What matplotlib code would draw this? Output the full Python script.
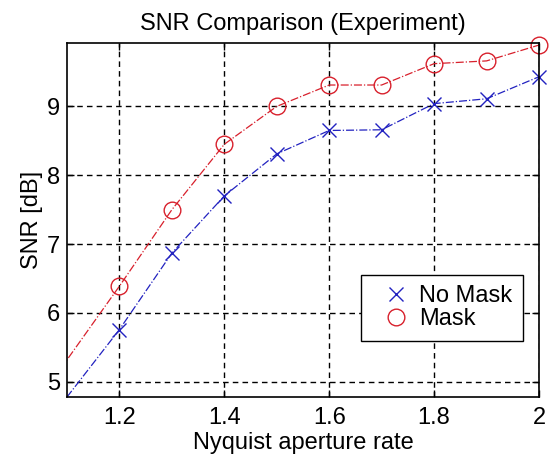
import matplotlib
matplotlib.use('Agg')
import matplotlib.pyplot as plt

# Nyquist aperture rate (1.0 point lies left of the shown range)
rate = [1.0, 1.2, 1.3, 1.4, 1.5, 1.6, 1.7, 1.8, 1.9, 2.0]

# SNR [dB]
snr_no_mask = [3.80, 5.76, 6.87, 7.70, 8.31, 8.65, 8.66, 9.04, 9.11, 9.43]
snr_mask = [4.25, 6.39, 7.50, 8.45, 9.00, 9.31, 9.31, 9.62, 9.66, 9.89]

xticks = [1.2, 1.4, 1.6, 1.8, 2.0]
xtick_labels = ['1.2', '1.4', '1.6', '1.8', '2']
yticks = [5, 6, 7, 8, 9]

plt.rcParams['font.family'] = ['Liberation Sans', 'DejaVu Sans']

blue = '#2222c0'
red = '#d8202c'
fs = 17

fig = plt.figure(figsize=(5.57, 4.59), dpi=100)
ax = fig.add_axes([67 / 557, 62 / 459, 472 / 557, 354 / 459])

# lines first, markers on top (legend shows markers only)
ax.plot(rate, snr_no_mask, color=blue, linestyle='-.', linewidth=0.9)
ax.plot(rate, snr_mask, color=red, linestyle='-.', linewidth=0.9)
# first point is off the axes, skip its marker so the edge ones can stay unclipped
ax.plot(rate, snr_no_mask, linestyle='none', marker='x', color=blue,
        markersize=10, markeredgewidth=1.0, label='No Mask',
        markevery=slice(1, None), clip_on=False)
ax.plot(rate, snr_mask, linestyle='none', marker='o', markerfacecolor='none',
        markeredgecolor=red, markersize=12, markeredgewidth=1.0,
        label='Mask', markevery=slice(1, None), clip_on=False)

ax.set_xlim(1.1, 2.0)
ax.set_ylim(4.78, 9.92)
ax.set_xticks(xticks)
ax.set_xticklabels(xtick_labels)
ax.set_yticks(yticks)
ax.tick_params(direction='in', labelsize=fs, length=5, width=1, top=True, right=True)
ax.tick_params(axis='x', pad=7)
ax.tick_params(axis='y', pad=5)

ax.grid(True, color='black', linestyle=(0, (4, 3)), linewidth=1.0)
for s in ax.spines.values():
    s.set_linewidth(1.2)

ax.set_title('SNR Comparison (Experiment)', fontsize=fs, pad=9)
ax.set_xlabel('Nyquist aperture rate', fontsize=fs, labelpad=2)
ax.set_ylabel('SNR [dB]', fontsize=fs, labelpad=3)

leg = ax.legend(loc='lower right', bbox_to_anchor=(0.966, 0.158), fontsize=fs,
                fancybox=False, framealpha=1, edgecolor='black',
                handlelength=2.0, handletextpad=0.0, borderpad=0.45,
                labelspacing=0.05, borderaxespad=0)
leg.get_frame().set_linewidth(1.0)

fig.savefig('out.png', dpi=100)
